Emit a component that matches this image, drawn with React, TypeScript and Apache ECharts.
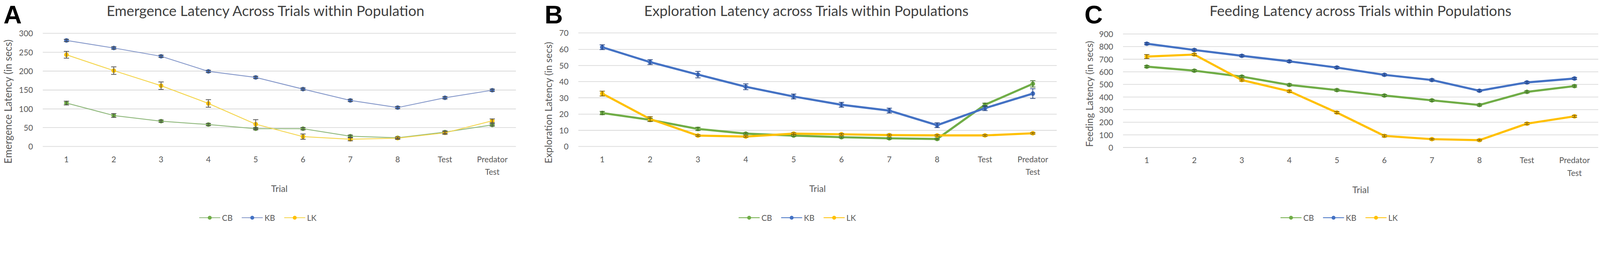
import React, { useEffect, useRef } from "react";
import * as echarts from "echarts";

// ---------- data ----------
const categories = ["1", "2", "3", "4", "5", "6", "7", "8", "Test", "Predator Test"];
const populations = ["CB", "KB", "LK"];

const emergenceCB = [115, 82, 67, 58, 47, 47, 27, 23, 38, 57];
const emergenceKB = [281, 261, 239, 199, 183, 152, 122, 103, 129, 149];
const emergenceLK = [243, 201, 161, 114, 59, 26, 19, 22, 36, 68];
const emergenceErrCB = [5, 5, 3, 3, 3, 3, 3, 2, 3, 3];
const emergenceErrKB = [3, 3, 3, 3, 3, 3, 3, 3, 3, 3];
const emergenceErrLK = [9, 10, 10, 10, 12, 7, 4, 3, 4, 5];

const explorationCB = [20.6, 16.4, 10.8, 7.9, 6.7, 5.7, 5.0, 4.6, 25.7, 38.6];
const explorationKB = [61.2, 52.0, 44.3, 36.8, 30.8, 25.7, 22.1, 13.1, 23.6, 32.6];
const explorationLK = [32.6, 16.9, 6.7, 6.1, 7.9, 7.5, 7.0, 6.8, 6.8, 8.1];
const explorationErrCB = [1, 1, 1, 0.5, 0.5, 0.5, 0.5, 0.5, 1, 2];
const explorationErrKB = [1.5, 1.5, 2, 1.8, 1.5, 1.5, 1.5, 1.5, 1.5, 3];
const explorationErrLK = [1.5, 1.5, 0.5, 0.5, 0.5, 0.5, 0.5, 0.5, 0.5, 0.5];

const feedingCB = [641, 609, 562, 496, 455, 412, 374, 337, 441, 487];
const feedingKB = [823, 773, 727, 683, 634, 576, 535, 450, 516, 547];
const feedingLK = [721, 737, 535, 446, 277, 92, 66, 58, 189, 247];
const feedingErrCB = [8, 8, 8, 8, 8, 8, 8, 8, 8, 8];
const feedingErrKB = [8, 8, 8, 8, 8, 8, 8, 8, 8, 8];
const feedingErrLK = [16, 8, 8, 8, 8, 8, 6, 6, 8, 8];

const emergenceTicks = { min: 0, max: 300, interval: 50 };
const explorationTicks = { min: 0, max: 70, interval: 10 };
const feedingTicks = { min: 0, max: 900, interval: 100 };

// ---------- page ----------
if (typeof document !== "undefined") {
  document.body.style.margin = "0";
  document.body.style.overflow = "hidden";
}

const DESIGN_W = 4562;
const DESIGN_H = 651;

const FONT = "Lato, 'Open Sans', sans-serif";
const markerColors = ["#70AD47", "#4472C4", "#FFC000"];
const thinLineColors = ["#8fb87c", "#8497c9", "#f4d54c"];
const errColorsThin = ["#4a4a4a", "#4a4a4a", "#4a4a4a"];
const errColorsThick = ["#3d6b25", "#22407e", "#7a5c00"];

function errorSeries(values: number[], errs: number[], color: string, capW: number) {
  return {
    type: "custom",
    silent: true,
    z: 5,
    encode: { x: 0, y: [1, 2] },
    data: values.map((v, i) => [i, v - errs[i], v + errs[i]]),
    renderItem: (_params: any, api: any) => {
      const idx = api.value(0);
      const lo = api.coord([idx, api.value(1)]);
      const hi = api.coord([idx, api.value(2)]);
      const h = capW / 2;
      const st = { stroke: color, lineWidth: 2 };
      return {
        type: "group",
        children: [
          { type: "line", shape: { x1: lo[0], y1: lo[1], x2: hi[0], y2: hi[1] }, style: st },
          { type: "line", shape: { x1: lo[0] - h, y1: lo[1], x2: lo[0] + h, y2: lo[1] }, style: st },
          { type: "line", shape: { x1: hi[0] - h, y1: hi[1], x2: hi[0] + h, y2: hi[1] }, style: st },
        ],
      };
    },
  };
}

type PanelCfg = {
  width: number;
  letter: string;
  letterX: number;
  title: string;
  titleX: number;
  yName: string;
  yNameX: number;
  yNameY: number;
  yNameSize: number;
  grid: { left: number; top: number; width: number; height: number };
  ticks: { min: number; max: number; interval: number };
  values: number[][];
  errs: number[][];
  thick: boolean;
  legendLeft: number;
};

function buildOption(cfg: PanelCfg) {
  const lineSeries = populations.map((name, k) => ({
    name,
    type: "line",
    data: cfg.values[k],
    symbol: "circle",
    symbolSize: 13,
    z: 2 + k * 0.1,
    lineStyle: {
      width: cfg.thick ? 6 : 2.5,
      color: cfg.thick ? markerColors[k] : thinLineColors[k],
    },
    itemStyle: { color: markerColors[k] },
  }));
  const errSeries = populations.map((_n, k) =>
    errorSeries(
      cfg.values[k],
      cfg.errs[k],
      cfg.thick ? errColorsThick[k] : errColorsThin[k],
      15
    )
  );
  return {
    animation: false,
    backgroundColor: "#ffffff",
    title: {
      text: cfg.title,
      left: cfg.titleX,
      top: 30,
      textAlign: "center",
      textVerticalAlign: "middle",
      padding: 0,
      textStyle: { fontFamily: FONT, fontSize: 41, fontWeight: "normal", color: "#404040" },
    },
    graphic: [
      {
        type: "text",
        x: cfg.letterX,
        y: 42,
        style: {
          text: cfg.letter,
          fontFamily: "'Liberation Sans', Arial, sans-serif",
          fontWeight: "bold",
          fontSize: 72,
          lineHeight: 60,
          fill: "#000000",
          textAlign: "left",
          textVerticalAlign: "middle",
        },
      },
      {
        type: "text",
        x: cfg.yNameX,
        y: cfg.yNameY,
        rotation: Math.PI / 2,
        style: {
          text: cfg.yName,
          fontFamily: FONT,
          fontSize: cfg.yNameSize,
          fill: "#595959",
          textAlign: "center",
          textVerticalAlign: "middle",
        },
      },
    ],
    legend: {
      data: populations,
      left: cfg.legendLeft,
      top: 610,
      padding: 0,
      itemWidth: 60,
      itemHeight: 14,
      itemGap: 25,
      textStyle: { fontFamily: FONT, fontSize: 23, color: "#595959" },
    },
    grid: { ...cfg.grid, containLabel: false, outerBoundsMode: "none" },
    xAxis: {
      type: "category",
      data: categories,
      boundaryGap: true,
      axisLine: { show: false },
      axisTick: { show: false },
      axisLabel: {
        interval: 0,
        margin: 18,
        lineHeight: 36,
        fontFamily: FONT,
        fontSize: 23,
        color: "#595959",
        formatter: (v: string) => v.replace(" ", "\n"),
      },
      name: "Trial",
      nameLocation: "middle",
      nameGap: 107,
      nameTextStyle: { fontFamily: FONT, fontSize: 26, color: "#595959" },
    },
    yAxis: {
      type: "value",
      min: cfg.ticks.min,
      max: cfg.ticks.max,
      interval: cfg.ticks.interval,
      axisLine: { show: false },
      axisTick: { show: false },
      axisLabel: { margin: 28, fontFamily: FONT, fontSize: 23, color: "#595959" },
      splitLine: { show: true, lineStyle: { color: "#d9d9d9", width: 2 } },
    },
    series: [...lineSeries, ...errSeries],
  };
}

const panels: PanelCfg[] = [
  {
    width: 1520,
    letter: "A",
    letterX: 10,
    title: "Emergence Latency Across Trials within Population",
    titleX: 757,
    yName: "Emergence Latency (in secs)",
    yNameX: 22,
    yNameY: 290,
    yNameSize: 29,
    grid: { left: 122, top: 95, width: 1349, height: 323 },
    ticks: emergenceTicks,
    values: [emergenceCB, emergenceKB, emergenceLK],
    errs: [emergenceErrCB, emergenceErrKB, emergenceErrLK],
    thick: false,
    legendLeft: 567,
  },
  {
    width: 1520,
    letter: "B",
    letterX: 33,
    title: "Exploration Latency across Trials within Populations",
    titleX: 779,
    yName: "Exploration Latency (in secs)",
    yNameX: 43,
    yNameY: 293,
    yNameSize: 28,
    grid: { left: 129, top: 94, width: 1364, height: 324 },
    ticks: explorationTicks,
    values: [explorationCB, explorationKB, explorationLK],
    errs: [explorationErrCB, explorationErrKB, explorationErrLK],
    thick: true,
    legendLeft: 585,
  },
  {
    width: 1522,
    letter: "C",
    letterX: 52,
    title: "Feeding Latency across Trials within Populations",
    titleX: 839,
    yName: "Feeding Latency (in secs)",
    yNameX: 65,
    yNameY: 268,
    yNameSize: 28,
    grid: { left: 162, top: 97, width: 1355, height: 324 },
    ticks: feedingTicks,
    values: [feedingCB, feedingKB, feedingLK],
    errs: [feedingErrCB, feedingErrKB, feedingErrLK],
    thick: true,
    legendLeft: 610,
  },
];

function Panel({ cfg }: { cfg: PanelCfg }) {
  const ref = useRef<HTMLDivElement | null>(null);
  useEffect(() => {
    if (!ref.current) return;
    const chart = echarts.init(ref.current, null, { renderer: "svg" });
    chart.setOption(buildOption(cfg) as any);
    return () => chart.dispose();
  }, [cfg]);
  return <div ref={ref} style={{ width: cfg.width, height: DESIGN_H, flex: "none" }} />;
}

export default function App() {
  const vw = typeof window !== "undefined" ? window.innerWidth : DESIGN_W;
  const vh = typeof window !== "undefined" ? window.innerHeight : DESIGN_H;
  const s = Math.min(vw / DESIGN_W, vh / DESIGN_H, 1);
  return (
    <div style={{ width: DESIGN_W * s, height: DESIGN_H * s, overflow: "hidden", background: "#fff" }}>
      <div
        style={{
          display: "flex",
          width: DESIGN_W,
          height: DESIGN_H,
          transform: `scale(${s})`,
          transformOrigin: "0 0",
          background: "#fff",
        }}
      >
        {panels.map((p) => (
          <Panel key={p.letter} cfg={p} />
        ))}
      </div>
    </div>
  );
}
